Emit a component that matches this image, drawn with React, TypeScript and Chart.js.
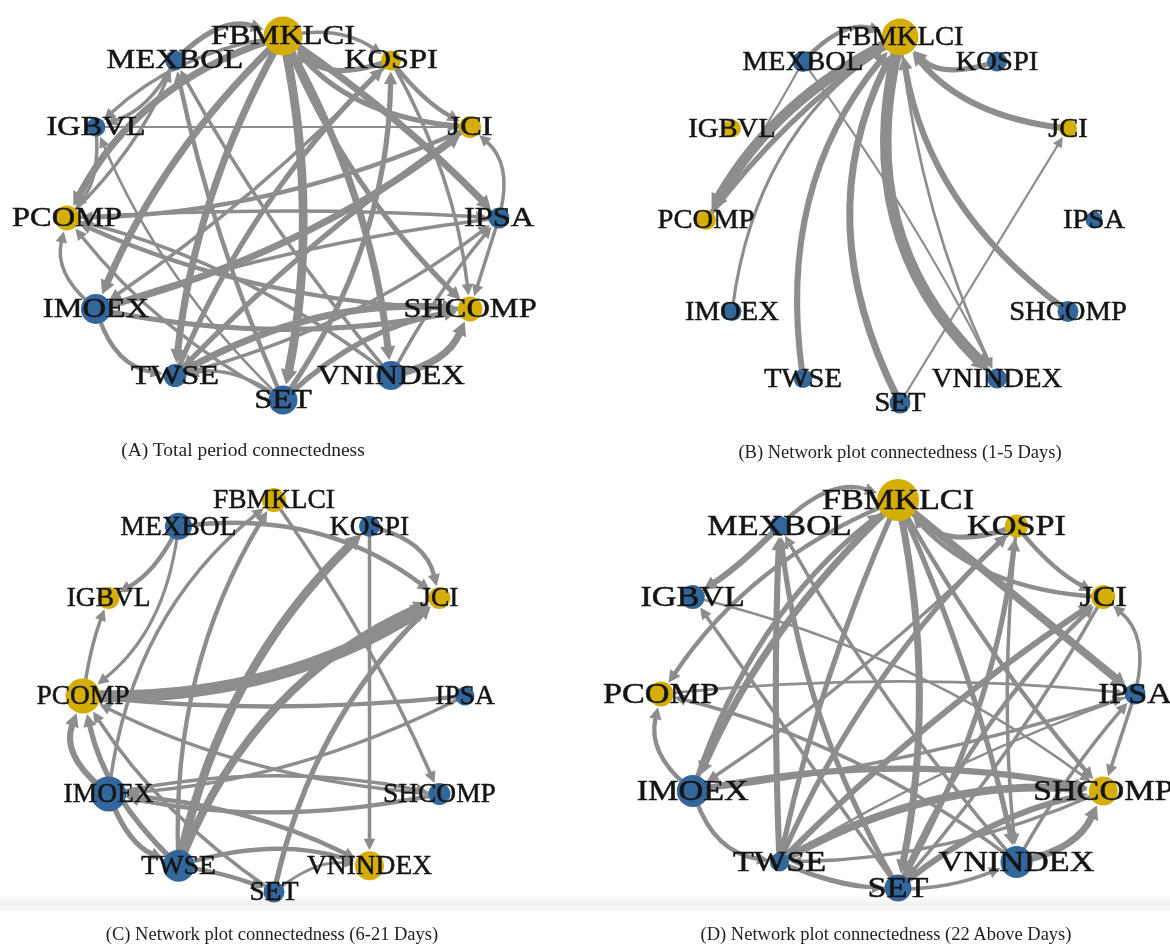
import React, { useEffect, useRef } from "react";
import { Chart, registerables } from "chart.js";

Chart.register(...registerables);

// ---------------- DATA ----------------
// Nodes in circle-layout order (clockwise from top)
const nodeNames = ["FBMKLCI", "KOSPI", "JCI", "IPSA", "SHCOMP", "VNINDEX", "SET", "TWSE", "IMOEX", "PCOMP", "IGBVL", "MEXBOL"];

// 1 = gold node, 0 = blue node
const goldA = [1, 1, 1, 0, 1, 0, 0, 0, 0, 1, 0, 0];
const goldB = [1, 0, 1, 0, 0, 0, 0, 0, 0, 1, 1, 0];
const goldC = [1, 0, 1, 0, 0, 1, 0, 0, 0, 1, 1, 0];
const goldD = [1, 1, 1, 0, 1, 0, 0, 0, 0, 1, 0, 0];

// relative node strength (vertex size)
const sizeA = [1.95, 1.0, 1.1, 1.05, 1.25, 1.45, 1.45, 1.15, 1.5, 1.25, 0.95, 1.0];
const sizeB = [1.85, 1.0, 0.9, 0.85, 1.05, 1.0, 1.05, 0.95, 0.95, 1.0, 0.9, 1.05];
const sizeC = [1.2, 1.05, 1.1, 0.95, 1.1, 1.45, 1.05, 1.6, 1.75, 1.75, 1.1, 1.35];
const sizeD = [2.1, 1.15, 1.2, 1.05, 1.45, 1.6, 1.35, 0.95, 1.6, 1.25, 1.2, 1.0];

type Edge = [string, string, number];

// directed edges: [from, to, connectedness weight]
const edgesA: Edge[] = [
  ["FBMKLCI", "PCOMP", 4], ["FBMKLCI", "IMOEX", 4], ["FBMKLCI", "TWSE", 4], ["FBMKLCI", "SET", 5],
  ["FBMKLCI", "VNINDEX", 4], ["FBMKLCI", "IPSA", 4], ["FBMKLCI", "SHCOMP", 3], ["MEXBOL", "FBMKLCI", 3],
  ["KOSPI", "FBMKLCI", 3], ["JCI", "FBMKLCI", 3], ["FBMKLCI", "KOSPI", 2], ["IMOEX", "JCI", 4],
  ["IMOEX", "PCOMP", 2], ["IMOEX", "TWSE", 2.5], ["IMOEX", "SHCOMP", 3], ["TWSE", "SHCOMP", 4],
  ["TWSE", "KOSPI", 3], ["TWSE", "JCI", 3], ["SET", "KOSPI", 3], ["SET", "MEXBOL", 2.5],
  ["SET", "IGBVL", 1.5], ["SET", "PCOMP", 2], ["VNINDEX", "SHCOMP", 4], ["VNINDEX", "IPSA", 2],
  ["VNINDEX", "PCOMP", 2], ["VNINDEX", "MEXBOL", 2], ["IPSA", "JCI", 2], ["IPSA", "SHCOMP", 2],
  ["PCOMP", "IPSA", 2], ["IGBVL", "JCI", 1.2], ["MEXBOL", "IGBVL", 2], ["IGBVL", "PCOMP", 2],
  ["KOSPI", "JCI", 2.5], ["KOSPI", "IMOEX", 2], ["JCI", "TWSE", 2], ["SHCOMP", "PCOMP", 2.5],
  ["PCOMP", "MEXBOL", 2], ["KOSPI", "SHCOMP", 2], ["IPSA", "IMOEX", 2], ["FBMKLCI", "IGBVL", 2],
  ["SET", "SHCOMP", 3], ["TWSE", "IPSA", 2], ["SET", "TWSE", 2], ["JCI", "PCOMP", 2.5],
];

const edgesB: Edge[] = [
  ["FBMKLCI", "PCOMP", 6], ["PCOMP", "FBMKLCI", 3], ["MEXBOL", "FBMKLCI", 2.5], ["MEXBOL", "PCOMP", 1.2],
  ["MEXBOL", "VNINDEX", 1.2], ["IMOEX", "FBMKLCI", 1.8], ["TWSE", "FBMKLCI", 3.5], ["SET", "FBMKLCI", 4],
  ["SET", "JCI", 1.2], ["FBMKLCI", "VNINDEX", 6.5], ["FBMKLCI", "VNINDEX", 1.5], ["SHCOMP", "FBMKLCI", 3.5],
  ["JCI", "FBMKLCI", 3.5], ["KOSPI", "FBMKLCI", 3],
];

const edgesC: Edge[] = [
  ["PCOMP", "JCI", 7], ["TWSE", "JCI", 4.5], ["TWSE", "KOSPI", 5], ["SET", "JCI", 3],
  ["IMOEX", "PCOMP", 3.5], ["TWSE", "PCOMP", 3], ["SET", "PCOMP", 2], ["MEXBOL", "IGBVL", 2.5],
  ["MEXBOL", "PCOMP", 1.8], ["PCOMP", "IGBVL", 2], ["KOSPI", "JCI", 2.5], ["MEXBOL", "JCI", 2.5],
  ["FBMKLCI", "SHCOMP", 2], ["KOSPI", "VNINDEX", 2], ["TWSE", "FBMKLCI", 2.5], ["IPSA", "PCOMP", 2.5],
  ["IPSA", "IMOEX", 2], ["SHCOMP", "IMOEX", 2.5], ["IMOEX", "SHCOMP", 2], ["IMOEX", "VNINDEX", 2.5],
  ["TWSE", "VNINDEX", 2.5], ["TWSE", "SET", 2.5], ["IMOEX", "TWSE", 3], ["SET", "VNINDEX", 1.5],
  ["SHCOMP", "PCOMP", 2], ["IMOEX", "FBMKLCI", 2],
];

const edgesD: Edge[] = [
  ["MEXBOL", "FBMKLCI", 2.5], ["MEXBOL", "IGBVL", 3.5], ["FBMKLCI", "IMOEX", 4], ["FBMKLCI", "TWSE", 3],
  ["FBMKLCI", "SET", 4], ["FBMKLCI", "VNINDEX", 3], ["FBMKLCI", "IPSA", 4.5], ["FBMKLCI", "SHCOMP", 2.5],
  ["FBMKLCI", "PCOMP", 2.5], ["KOSPI", "FBMKLCI", 3], ["JCI", "FBMKLCI", 2.5], ["TWSE", "MEXBOL", 3.5],
  ["SET", "IGBVL", 2], ["IMOEX", "SHCOMP", 3.5], ["TWSE", "SHCOMP", 4.5], ["VNINDEX", "SHCOMP", 4],
  ["VNINDEX", "IPSA", 2], ["IPSA", "SHCOMP", 2], ["IPSA", "JCI", 2], ["KOSPI", "JCI", 2.5],
  ["IMOEX", "PCOMP", 2.5], ["IMOEX", "TWSE", 2.5], ["TWSE", "SET", 2], ["TWSE", "VNINDEX", 2],
  ["TWSE", "KOSPI", 3], ["SET", "KOSPI", 3], ["TWSE", "JCI", 3.5], ["PCOMP", "IPSA", 1.5],
  ["KOSPI", "VNINDEX", 2], ["KOSPI", "IMOEX", 2], ["IMOEX", "FBMKLCI", 3], ["SET", "MEXBOL", 3],
  ["IGBVL", "SHCOMP", 1.5], ["VNINDEX", "PCOMP", 2], ["SHCOMP", "TWSE", 2], ["JCI", "SET", 2],
  ["IPSA", "TWSE", 1.5], ["SET", "SHCOMP", 3.5], ["VNINDEX", "MEXBOL", 2], ["SET", "JCI", 2.5],
  ["IMOEX", "IPSA", 2],
];

const captionA = "(A) Total period connectedness";
const captionB = "(B) Network plot connectedness (1-5 Days)";
const captionC = "(C) Network plot connectedness (6-21 Days)";
const captionD = "(D) Network plot connectedness (22 Above Days)";

// ---------------- STYLE ----------------
// edge curvature (style, parallel to the edge lists)
const bendsA = [-0.2, -0.1, -0.1, 0.1, 0.1, 0.05, -0.1, 0.3, 0.3, 0.2, 0.2, -0.1, 0.3, -0.3, -0.1, 0.15, 0.1, 0.05, -0.15, 0.05,
  0.1, 0.1, -0.25, 0.05, -0.1, 0.05, -0.3, 0, 0.03, 0, 0.2, 0.2, -0.1, 0.05, -0.05, 0.1, -0.1, 0.1, -0.05, -0.15,
  0.15, -0.1, -0.2, 0.1];
const bendsB = [-0.15, 0.08, 0.3, 0.02, 0.04, 0.22, 0.22, 0.25, 0, -0.28, -0.08, 0.2, 0.2, 0.3];
const bendsC = [-0.15, 0.2, 0.15, 0.15, 0.35, 0.15, 0.1, 0.15, 0.2, 0.05, 0.3, 0.2, 0.05, 0, 0.15, 0.05, 0.1, 0.1, 0.1, 0.1,
  0.15, 0.05, -0.2, 0.2, 0.1, 0.2];
const bendsD = [0.3, 0.05, -0.1, -0.05, 0.1, 0.05, 0, -0.05, -0.15, 0.3, 0.2, 0.02, 0, 0.1, 0.15, -0.25, 0.05, 0, -0.3, -0.1,
  0.3, -0.3, -0.1, -0.2, 0.1, -0.1, 0.05, 0.05, -0.05, 0.05, 0.15, 0.1, 0.1, -0.1, 0.1, 0.05, -0.05, 0.12, 0.05, 0.1, -0.05];

const GOLD = "#D5AE05";
const BLUE = "#33669A";
const EDGE = "#8d8d8d";
const LABEL = "#141414";
const SERIF = "'Liberation Serif', 'Times New Roman', serif";
const EDGE_SCALE = 1.75;

type Geom = { cx: number; cy: number; rx: number; ry: number; font: number; sx: number; capX: number; capY: number; capSize: number };

const geomA: Geom = { cx: 283, cy: 218, rx: 216, ry: 182, font: 27, sx: 1.2, capX: 243, capY: 450, capSize: 19.5 };
const geomB: Geom = { cx: 900, cy: 220, rx: 194, ry: 183, font: 27, sx: 1.06, capX: 900, capY: 452, capSize: 18.5 };
const geomC: Geom = { cx: 274, cy: 696, rx: 191, ry: 196, font: 28, sx: 0.98, capX: 272, capY: 934, capSize: 18.5 };
const geomD: Geom = { cx: 898, cy: 694, rx: 237, ry: 194, font: 29, sx: 1.18, capX: 886, capY: 934, capSize: 18.5 };

const PAD_X = 90;
const PAD_Y = 40;

type PanelProps = { gold: number[]; size: number[]; edges: Edge[]; bends: number[]; geom: Geom };

function NetworkPanel({ gold, size, edges, bends, geom }: PanelProps) {
  const ref = useRef<HTMLCanvasElement>(null);
  const width = Math.round(2 * geom.rx + 2 * PAD_X);
  const height = Math.round(2 * geom.ry + 2 * PAD_Y);

  useEffect(() => {
    const canvas = ref.current;
    if (!canvas) return;
    const pts = nodeNames.map((_, k) => {
      const a = Math.PI / 2 - (k * Math.PI) / 6;
      return { x: Math.cos(a), y: Math.sin(a), r: size[k] * 10 };
    });
    const idx = (n: string) => nodeNames.indexOf(n);

    const edgePlugin = {
      id: "netEdges",
      beforeDatasetsDraw(chart: any) {
        const ctx: CanvasRenderingContext2D = chart.ctx;
        const xs = chart.scales.x;
        const ys = chart.scales.y;
        ctx.save();
        ctx.filter = "blur(0.5px)";
        ctx.strokeStyle = EDGE;
        ctx.fillStyle = EDGE;
        ctx.lineCap = "butt";
        edges.forEach(([f, t, w], i) => {
          const a = pts[idx(f)];
          const b = pts[idx(t)];
          const p0 = { x: xs.getPixelForValue(a.x), y: ys.getPixelForValue(a.y) };
          const p1 = { x: xs.getPixelForValue(b.x), y: ys.getPixelForValue(b.y) };
          const dx = p1.x - p0.x;
          const dy = p1.y - p0.y;
          const L = Math.hypot(dx, dy) || 1;
          const bend = bends[i] ?? 0.15;
          const c = { x: (p0.x + p1.x) / 2 + (dy / L) * bend * L, y: (p0.y + p1.y) / 2 + (-dx / L) * bend * L };
          const toward = (p: { x: number; y: number }, q: { x: number; y: number }, d: number) => {
            const vx = q.x - p.x;
            const vy = q.y - p.y;
            const l = Math.hypot(vx, vy) || 1;
            return { x: p.x + (vx / l) * d, y: p.y + (vy / l) * d };
          };
          const lw = w * EDGE_SCALE;
          const s = toward(p0, c, a.r * 0.6);
          const e = toward(p1, c, b.r + 1);
          const ah = 9 + lw * 0.7;
          const aw = 4 + lw * 0.5;
          const ux = e.x - c.x;
          const uy = e.y - c.y;
          const ul = Math.hypot(ux, uy) || 1;
          const nx = ux / ul;
          const ny = uy / ul;
          const base = { x: e.x - nx * ah, y: e.y - ny * ah };
          ctx.lineWidth = lw;
          ctx.beginPath();
          ctx.moveTo(s.x, s.y);
          ctx.quadraticCurveTo(c.x, c.y, base.x + nx * 1, base.y + ny * 1);
          ctx.stroke();
          ctx.beginPath();
          ctx.moveTo(e.x, e.y);
          ctx.lineTo(base.x - ny * aw, base.y + nx * aw);
          ctx.lineTo(base.x + ny * aw, base.y - nx * aw);
          ctx.closePath();
          ctx.fill();
        });
        ctx.restore();
      },
    };

    const labelPlugin = {
      id: "netLabels",
      afterDatasetsDraw(chart: any) {
        const ctx: CanvasRenderingContext2D = chart.ctx;
        const xs = chart.scales.x;
        const ys = chart.scales.y;
        ctx.save();
        ctx.filter = "blur(0.35px)";
        ctx.fillStyle = LABEL;
        ctx.strokeStyle = LABEL;
        ctx.lineWidth = 0.5;
        ctx.lineJoin = "round";
        ctx.font = `${geom.font}px ${SERIF}`;
        ctx.textAlign = "center";
        ctx.textBaseline = "middle";
        nodeNames.forEach((name, k) => {
          const px = xs.getPixelForValue(pts[k].x);
          const py = ys.getPixelForValue(pts[k].y);
          ctx.save();
          ctx.translate(px, py + 1);
          ctx.scale(geom.sx, 1);
          ctx.fillText(name, 0, 0);
          ctx.strokeText(name, 0, 0);
          ctx.restore();
        });
        ctx.restore();
      },
    };

    const chart = new Chart(canvas, {
      type: "bubble",
      data: {
        datasets: [
          {
            data: pts,
            backgroundColor: gold.map((g) => (g ? GOLD : BLUE)),
            borderWidth: 0,
            hoverRadius: 0,
            clip: false,
          } as any,
        ],
      },
      options: {
        responsive: false,
        animation: false,
        events: [],
        layout: { padding: { left: PAD_X, right: PAD_X, top: PAD_Y, bottom: PAD_Y } },
        scales: {
          x: { type: "linear", min: -1, max: 1, display: false },
          y: { type: "linear", min: -1, max: 1, display: false },
        },
        plugins: { legend: { display: false }, tooltip: { enabled: false } },
      },
      plugins: [edgePlugin, labelPlugin],
    } as any);
    return () => chart.destroy();
  }, []);

  return (
    <canvas
      ref={ref}
      width={width}
      height={height}
      style={{ position: "absolute", left: Math.round(geom.cx - geom.rx - PAD_X), top: Math.round(geom.cy - geom.ry - PAD_Y), width, height }}
    />
  );
}

function Caption({ text, geom }: { text: string; geom: Geom }) {
  return (
    <div
      style={{
        position: "absolute",
        left: geom.capX - 300,
        top: geom.capY - geom.capSize * 0.62,
        width: 600,
        textAlign: "center",
        fontFamily: SERIF,
        fontSize: geom.capSize,
        lineHeight: `${geom.capSize * 1.2}px`,
        color: "#1e1e1e",
        whiteSpace: "nowrap",
      }}
    >
      {text}
    </div>
  );
}

export default function App() {
  return (
    <div style={{ position: "absolute", left: 0, top: 0, width: 1170, height: 944, background: "#ffffff", overflow: "hidden" }}>
      <div
        style={{
          position: "absolute",
          left: 0,
          top: 896,
          width: 1170,
          height: 15,
          background: "linear-gradient(to bottom, #ffffff, #f1f1f1 55%, #fbfbfb)",
        }}
      />
      <NetworkPanel gold={goldA} size={sizeA} edges={edgesA} bends={bendsA} geom={geomA} />
      <NetworkPanel gold={goldB} size={sizeB} edges={edgesB} bends={bendsB} geom={geomB} />
      <NetworkPanel gold={goldC} size={sizeC} edges={edgesC} bends={bendsC} geom={geomC} />
      <NetworkPanel gold={goldD} size={sizeD} edges={edgesD} bends={bendsD} geom={geomD} />
      <Caption text={captionA} geom={geomA} />
      <Caption text={captionB} geom={geomB} />
      <Caption text={captionC} geom={geomC} />
      <Caption text={captionD} geom={geomD} />
    </div>
  );
}
